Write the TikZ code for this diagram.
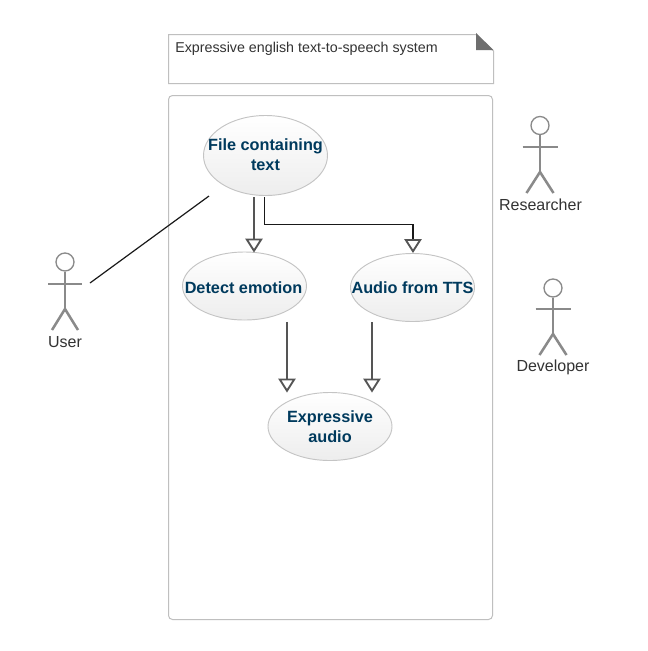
\documentclass[tikz,border=0pt]{standalone}
\usepackage{fontspec}
\setmainfont{Liberation Sans}
\usetikzlibrary{shapes.geometric,arrows.meta}
\definecolor{boxline}{HTML}{BFBFBF}
\definecolor{ucline}{HTML}{C4C4C4}
\definecolor{uctext}{HTML}{003A5D}
\definecolor{actorline}{HTML}{8A8A8A}
\definecolor{connline}{HTML}{555555}
\definecolor{foldfill}{HTML}{6E6E6E}
\tikzset{
  panel/.style={draw=boxline,line width=0.75pt,fill=white},
  usecase/.style={ellipse,draw=ucline,line width=0.7pt,top color=white,bottom color=black!7,minimum width=93pt,minimum height=#1,inner sep=0pt},
  uclabel/.style={align=center,text=uctext,font=\fontsize{12.2}{15}\selectfont\bfseries,inner sep=0pt},
  actorlabel/.style={text=black!80,font=\fontsize{12}{14}\selectfont,inner sep=0pt},
  notetext/.style={text=black!80,font=\fontsize{10.7}{13}\selectfont,inner sep=0pt,anchor=west},
  actorlimb/.style={draw=actorline,line width=1.9pt},
  actorhead/.style={circle,draw=actorline,line width=1pt,fill=white,minimum size=13.5pt,inner sep=0pt},
  gen/.style={draw=connline,line width=1.4pt,-{Triangle[open,length=10.5pt,width=13pt,fill=white]}},
  assoc/.style={draw=black!90,line width=0.9pt},
  elbow/.style={draw=black!90,line width=0.8pt},
}
\begin{document}
\begin{tikzpicture}[x=0.75pt,y=-0.75pt]
\useasboundingbox (0,0) rectangle (648,651);
\fill[white] (0,0) rectangle (648,651);
% note
\path[panel] (168.5,34.5) -- (476,34.5) -- (493.5,51) -- (493.5,83.5) -- (168.5,83.5) -- cycle;
\fill[foldfill] (476,33) -- (493.5,50) -- (476,50) -- cycle;
\node[notetext] (title) at (175,49) {Expressive english text-to-speech system};
% system boundary
\path[panel,rounded corners=3pt] (168.5,95.5) rectangle (492.5,619.5);
% use cases
\node[usecase=60pt] (file) at (265.5,155.5) {};
\node[usecase=51pt] (detect) at (244.5,286) {};
\node[usecase=51pt] (audio) at (412.5,287.5) {};
\node[usecase=51pt] (expr) at (330,426.5) {};
\node[uclabel] (filetext) at (265.5,155) {File containing\\text};
\node[uclabel] (detecttext) at (243.5,287.5) {Detect emotion};
\node[uclabel] (audiotext) at (412.5,288) {Audio from TTS};
\node[uclabel] (exprtext) at (330,427) {Expressive\\audio};
% actors
\node[actorhead] (userhead) at (65,262) {};
\draw[actorlimb] (userhead.south) -- (65,309) coordinate (userhip);
\draw[actorlimb] (48,284) -- (82,284);
\draw[actorlimb] (52,330) -- (userhip) -- (78,330);
\node[actorlabel] (user) at (65,342.5) {User};
\node[actorhead] (reshead) at (540,125.5) {};
\draw[actorlimb] (reshead.south) -- (540,172) coordinate (reship);
\draw[actorlimb] (522.5,147) -- (557.5,147);
\draw[actorlimb] (526.5,193) -- (reship) -- (553.5,193);
\node[actorlabel] (researcher) at (540.5,204.5) {Researcher};
\node[actorhead] (devhead) at (553,288) {};
\draw[actorlimb] (devhead.south) -- (553,334) coordinate (devhip);
\draw[actorlimb] (535.5,309) -- (570.5,309);
\draw[actorlimb] (539.5,355) -- (devhip) -- (566.5,355);
\node[actorlabel] (developer) at (553,367.5) {Developer};
% connectors
\coordinate (userhand) at (90,283);
\coordinate (fileleft) at (209,196);
\draw[assoc] (userhand) -- (fileleft);
\draw[gen] ([shift={(-11.5,1.5)}]file.south) -- ([shift={(9.5,1)}]detect.north);
\draw[connline,line width=1.4pt] ([shift={(-1,1.5)}]file.south) -- ++(0,28);
\draw[gen] ([shift={(0.5,-14)}]audio.north) -- ([shift={(0.5,0)}]audio.north);
\draw[elbow] ([shift={(-1,1.5)}]file.south) |- ([shift={(0.5,-29)}]audio.north) -- ([shift={(0.5,-14)}]audio.north);
\draw[gen] ([shift={(42.5,1.5)}]detect.south) -- ([shift={(-43,0.5)}]expr.north);
\draw[gen] ([shift={(-40.5,0.5)}]audio.south) -- ([shift={(42,0.5)}]expr.north);
\end{tikzpicture}
\end{document}
